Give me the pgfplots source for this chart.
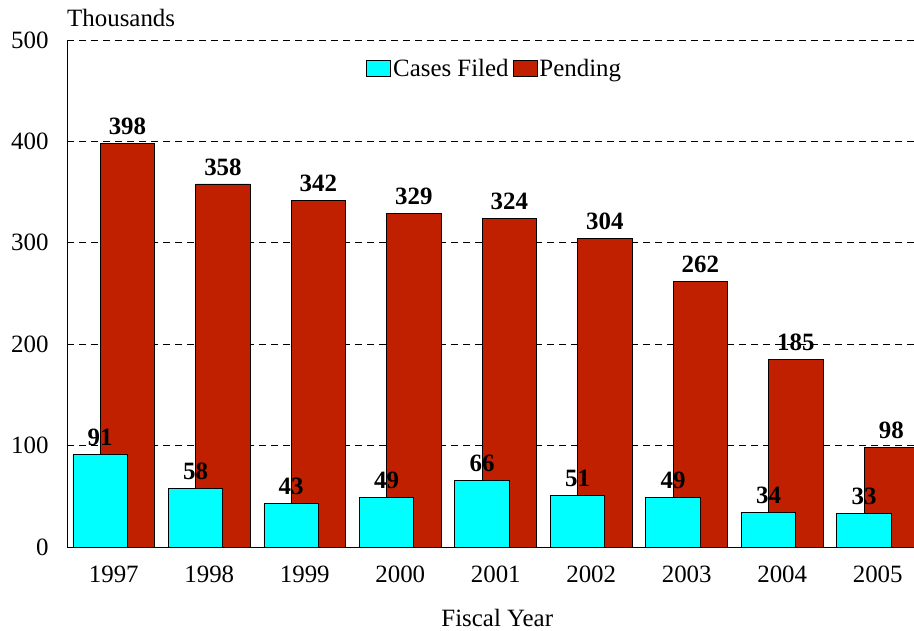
\documentclass[border=0pt]{standalone}
\usepackage{fontspec}
\setmainfont{Liberation Serif}
\usepackage{pgfplots}
\pgfplotsset{compat=1.18}
\definecolor{cyanbar}{RGB}{0,255,255}
\definecolor{redbar}{RGB}{192,32,0}
\pgfplotstableread{
x filed pending
0 91 398
1 58 358
2 43 342
3 49 329
4 66 324
5 51 304
6 49 262
7 34 185
8 33 98
}\datatable
\begin{document}
\begin{tikzpicture}
\useasboundingbox (-67bp,-84bp) rectangle (847bp,547bp);
\begin{axis}[
  at={(0,0)}, anchor=south west,
  scale only axis, width=847bp, height=507bp,
  xmin=-0.49, xmax=8.38, ymin=0, ymax=500,
  axis x line=bottom, axis y line=left,
  axis line style={-, black, line width=1pt},
  xtick={0,...,8}, xticklabels={1997,1998,1999,2000,2001,2002,2003,2004,2005},
  ytick={0,100,...,500},
  major tick length=0pt,
  ymajorgrids, grid style={black, line width=0.7pt, dash pattern=on 7bp off 5bp},
  tick label style={font=\fontsize{25}{30}\selectfont},
  xticklabel style={yshift=-15bp},
  yticklabel style={xshift=-15bp},
  /pgf/number format/assume math mode=true,
  xlabel={Fiscal Year},
  xlabel style={font=\fontsize{25}{30}\selectfont, at={(axis description cs:0.508,-0.14)}, anchor=center},
  ybar, bar width=0.57,
  nodes near coords,
  nodes near coords style={font=\bfseries\fontsize{25}{30}\selectfont, black, yshift=5bp},
  legend columns=2,
  legend style={draw=none, fill=none, font=\fontsize{25}{30}\selectfont,
    at={(axis description cs:0.505,0.943)}, anchor=center,
    /tikz/every even column/.append style={column sep=2bp}},
  legend cell align=left,
]
\addlegendimage{legend image code/.code={\draw[fill=cyanbar, draw=black, line width=0.8pt] (0bp,-7bp) rectangle (24bp,9bp);}}
\addlegendentry{Cases Filed}
\addlegendimage{legend image code/.code={\draw[fill=redbar, draw=black, line width=0.8pt] (0bp,-7bp) rectangle (24bp,9bp);}}
\addlegendentry{Pending}
\addplot[fill=redbar, draw=black, line width=0.8pt, bar shift=0.143, forget plot] table[x=x, y=pending] {\datatable};
\addplot[fill=cyanbar, draw=black, line width=0.8pt, bar shift=-0.143, forget plot] table[x=x, y=filed] {\datatable};
\end{axis}
\node[anchor=base west, font=\fontsize{25}{30}\selectfont, inner sep=0pt] at (0bp,520bp) {Thousands};
\end{tikzpicture}
\end{document}
